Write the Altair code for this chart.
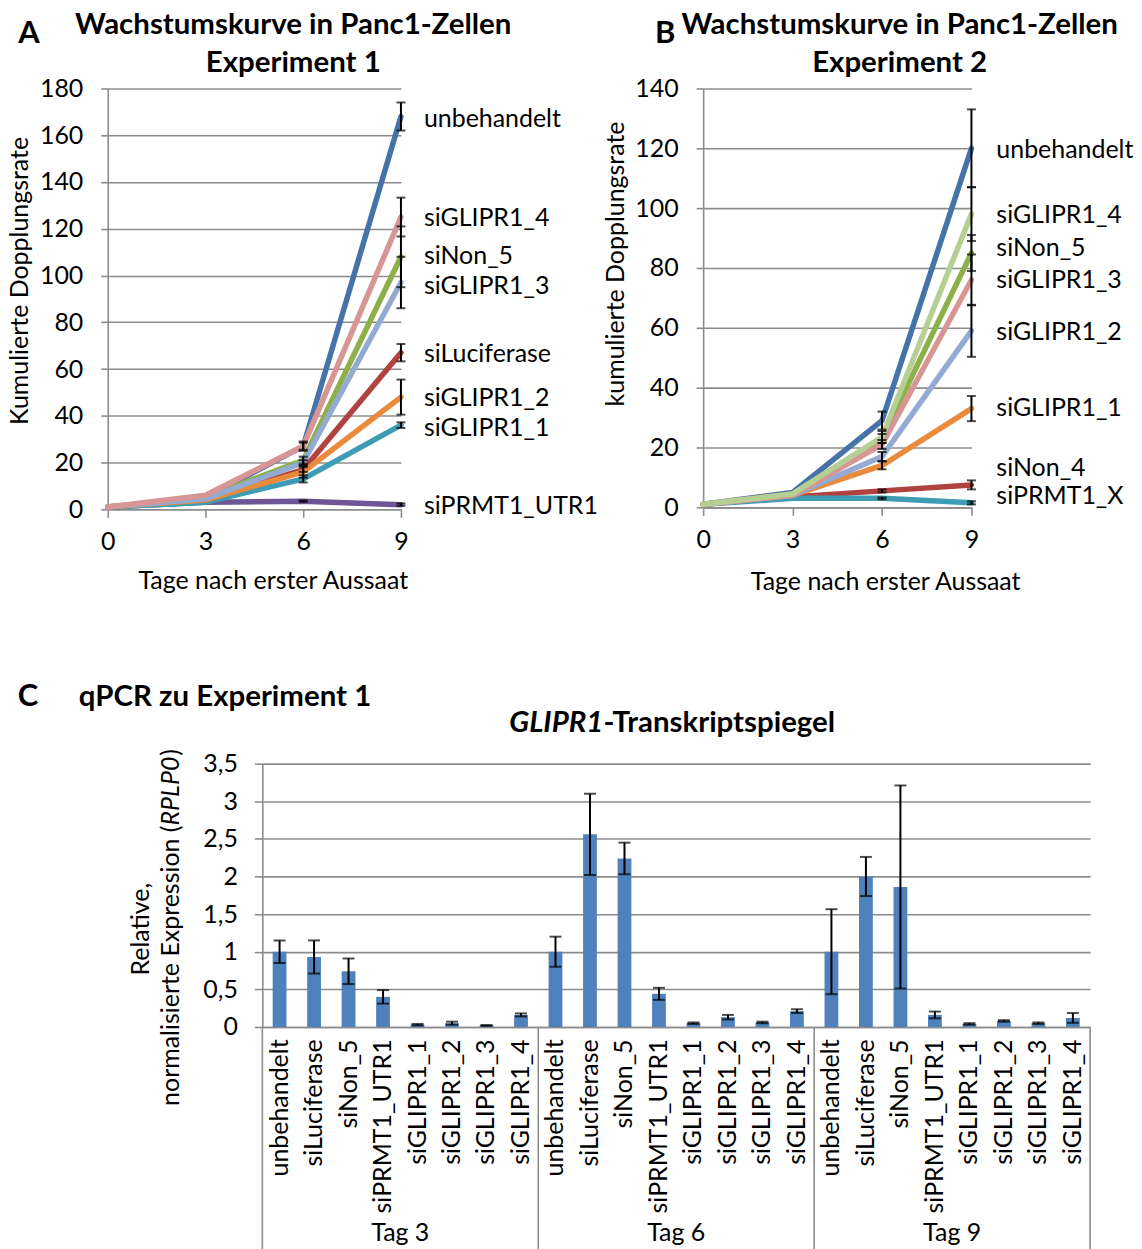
import altair as alt
import pandas as pd

FONT = "Lato"
GRID = "#8c8c8c"
BODY = 25
TITLE = 29.5
LETTER = 31

days = [0, 3, 6, 9]

# ---------------- Panel A : Experiment 1 ----------------
a_series = ["unbehandelt", "siLuciferase", "siNon_5", "siPRMT1_UTR1",
            "siGLIPR1_1", "siGLIPR1_2", "siGLIPR1_3", "siGLIPR1_4"]
a_colors = ["#4672AA", "#B0433F", "#8DB04A", "#6E5595",
            "#3E9CB5", "#E98A3C", "#93AAD3", "#D79693"]
a_values = [
    [1, 5, 27, 168],
    [1, 4, 17, 67],
    [1, 5, 21, 108],
    [1, 3, 3.5, 2],
    [1, 3, 13, 36],
    [1, 4, 16, 48],
    [1, 4.5, 20, 97],
    [1, 6, 27, 125],
]
a_err = [
    [0, 0, 2, 6],
    [0, 0, 1, 3.7],
    [0, 0, 1.5, 13],
    [0, 0, 0.3, 0.5],
    [0, 0, 1.5, 1.2],
    [0, 0, 2.5, 7.5],
    [0, 0, 1, 11],
    [0, 0, 1.5, 8.3],
]
a_label_at = [167, 66.6, 108.2, 1.3, 34.8, 47.6, 95.6, 124.6]

# ---------------- Panel B : Experiment 2 ----------------
b_series = ["unbehandelt", "siNon_4", "siNon_5", "siPRMT1_X",
            "siGLIPR1_1", "siGLIPR1_2", "siGLIPR1_3", "siGLIPR1_4"]
b_colors = ["#4672AA", "#B0433F", "#8DB04A", "#3E9CB5",
            "#E98A3C", "#93AAD3", "#D79693", "#B6CF93"]
b_values = [
    [1, 5, 29, 120],
    [1, 3.5, 5.5, 7.5],
    [1, 4.5, 23, 85],
    [1, 3, 3, 1.5],
    [1, 4, 14, 33],
    [1, 4, 17, 59],
    [1, 4, 21, 76],
    [1, 4.5, 23.5, 98],
]
b_err = [
    [0, 0, 3, 13],
    [0, 0, 0.5, 1.5],
    [0, 0, 1.5, 6],
    [0, 0, 0.3, 0.5],
    [0, 0, 1.3, 4.2],
    [0, 0, 1.5, 8.7],
    [0, 0, 1.5, 8.5],
    [0, 0, 2, 9],
]
b_label_at = [119.3, 13, 86.7, 3.7, 33.3, 58.7, 76, 97.7]

# ---------------- Panel C : qPCR ----------------
tags = ["Tag 3", "Tag 6", "Tag 9"]
conditions = ["unbehandelt", "siLuciferase", "siNon_5", "siPRMT1_UTR1",
              "siGLIPR1_1", "siGLIPR1_2", "siGLIPR1_3", "siGLIPR1_4"]
c_values = [
    [1.0, 0.93, 0.74, 0.40, 0.03, 0.05, 0.02, 0.16],
    [1.0, 2.56, 2.24, 0.44, 0.05, 0.13, 0.06, 0.21],
    [1.0, 2.00, 1.86, 0.16, 0.04, 0.08, 0.05, 0.12],
]
c_err = [
    [0.15, 0.22, 0.17, 0.09, 0.01, 0.02, 0.005, 0.02],
    [0.20, 0.54, 0.21, 0.08, 0.01, 0.03, 0.01, 0.025],
    [0.565, 0.26, 1.35, 0.045, 0.01, 0.01, 0.01, 0.065],
]

one = pd.DataFrame({"k": [0]})


def txt(t, x, y, size=BODY, weight="normal", align="center", angle=0,
        style="normal", dx=0):
    return alt.Chart(one).mark_text(
        text=t, font=FONT, fontSize=size, fontWeight=weight, align=align,
        baseline="middle", angle=angle, fontStyle=style, color="black", dx=dx
    ).encode(x=alt.value(x), y=alt.value(y))


def anchor(x0, x1, y0, y1):
    return alt.Chart(one).mark_rect(opacity=0).encode(
        x=alt.value(x0), x2=alt.value(x1), y=alt.value(y0), y2=alt.value(y1))


def growth_panel(series, colors, values, errs, label_at, ymax, w, h,
                 letter, letter_xy, title2, title_x, ytitle, ytitle_xy,
                 xtitle_xy, label_dx, extra=None):
    rows, erows, lrows = [], [], []
    for s, col, vals, es, la in zip(series, colors, values, errs, label_at):
        for d, v, e in zip(days, vals, es):
            rows.append({"series": s, "col": col, "day": d, "value": v})
            if e > 0:
                erows.append({"series": s, "day": d, "lo": v - e, "hi": v + e})
        lrows.append({"series": s, "day": 9, "pos": la})
    df = pd.DataFrame(rows)
    edf = pd.DataFrame(erows)
    ldf = pd.DataFrame(lrows)

    xs = alt.Scale(domain=[0, 9], nice=False)
    ys = alt.Scale(domain=[0, ymax], nice=False)
    xax = alt.Axis(values=days, grid=False, tickSize=8, labelPadding=12,
                   title=None, labelFontSize=BODY, labelFlush=False)
    yax = alt.Axis(values=list(range(0, ymax + 1, 20)), grid=True, tickSize=7,
                   labelPadding=18, title=None, labelFontSize=BODY, labelFlush=False)

    lines = alt.Chart(df).mark_line(strokeWidth=5.5, strokeCap="round").encode(
        x=alt.X("day:Q", scale=xs, axis=xax),
        y=alt.Y("value:Q", scale=ys, axis=yax),
        color=alt.Color("col:N", scale=None),
        detail="series:N",
    )
    ebar = alt.Chart(edf).mark_rule(color="black", strokeWidth=2).encode(
        x=alt.X("day:Q", scale=xs, axis=xax),
        y=alt.Y("lo:Q", scale=ys, axis=yax), y2="hi:Q")
    cap_lo = alt.Chart(edf).mark_tick(orient="horizontal", size=9, thickness=2,
                                      color="black").encode(
        x=alt.X("day:Q", scale=xs, axis=xax), y=alt.Y("lo:Q", scale=ys, axis=yax))
    cap_hi = alt.Chart(edf).mark_tick(orient="horizontal", size=9, thickness=2,
                                      color="black").encode(
        x=alt.X("day:Q", scale=xs, axis=xax), y=alt.Y("hi:Q", scale=ys, axis=yax))
    labels = alt.Chart(ldf).mark_text(
        font=FONT, fontSize=BODY, align="left", baseline="middle", dx=label_dx,
        color="black").encode(
        x=alt.X("day:Q", scale=xs, axis=xax),
        y=alt.Y("pos:Q", scale=ys, axis=yax), text="series:N")

    layers = ([extra] if extra is not None else []) + [
        lines, ebar, cap_lo, cap_hi, labels,
        txt(letter, letter_xy[0], letter_xy[1], size=LETTER, weight="bold"),
        txt("Wachstumskurve in Panc1-Zellen", title_x, -64, size=TITLE, weight="bold"),
        txt(title2, title_x, -25, size=TITLE, weight="bold"),
        txt(ytitle, ytitle_xy[0], ytitle_xy[1], angle=270),
        txt("Tage nach erster Aussaat", xtitle_xy[0], xtitle_xy[1]),
    ]
    return alt.layer(*layers).properties(width=w, height=h)


panel_a = growth_panel(
    a_series, a_colors, a_values, a_err, a_label_at, 180, 294, 422,
    "A", (-79, -55), "Experiment 1", 186, "Kumulierte Dopplungsrate", (-88, 193),
    (166, 494), 23, extra=anchor(-100, 0, -79, 0))

panel_b = growth_panel(
    b_series, b_colors, b_values, b_err, b_label_at, 140, 269, 420,
    "B", (-38, -55), "Experiment 2", 197, "kumulierte Dopplungsrate", (-87, 176),
    (183, 495), 25)

# ---------------- build panel C ----------------
keys = [f"{t}|{c}" for t in tags for c in conditions]
crows = []
for t, vals, es in zip(tags, c_values, c_err):
    for c, v, e in zip(conditions, vals, es):
        crows.append({"key": f"{t}|{c}", "tag": t, "cond": c, "value": v,
                      "lo": max(v - e, 0), "hi": v + e})
cdf = pd.DataFrame(crows)

CW, CH = 830, 264
cx_scale = alt.Scale(domain=keys, paddingInner=0, paddingOuter=0)
cx_axis = alt.Axis(title=None, labelAngle=-90, ticks=False, labelPadding=12,
                   labelExpr="split(datum.label, '|')[1]", labelFontSize=BODY,
                   labelLimit=400, grid=False)
cy_scale = alt.Scale(domain=[0, 3.5], nice=False)
cy_axis = alt.Axis(title=None, values=[0, 0.5, 1, 1.5, 2, 2.5, 3, 3.5], grid=True,
                   tickSize=8, labelPadding=17, labelFontSize=BODY, labelFlush=False,
                   labelExpr="replace(format(datum.value, '.1~f'), '.', ',')")


def cx(bp=None):
    if bp is None:
        return alt.X("key:N", scale=cx_scale, axis=cx_axis, sort=keys)
    return alt.X("key:N", scale=cx_scale, axis=cx_axis, sort=keys, bandPosition=bp)


bars = alt.Chart(cdf).mark_bar(width=alt.RelativeBandSize(0.4), color="#4F81BD").encode(
    x=cx(), y=alt.Y("value:Q", scale=cy_scale, axis=cy_axis))
c_rule = alt.Chart(cdf).mark_rule(color="black", strokeWidth=2).encode(
    x=cx(), y=alt.Y("lo:Q", scale=cy_scale, axis=cy_axis), y2="hi:Q")
c_cap_lo = alt.Chart(cdf).mark_tick(orient="horizontal", size=12, thickness=2,
                                    color="black").encode(
    x=cx(), y=alt.Y("lo:Q", scale=cy_scale, axis=cy_axis))
c_cap_hi = alt.Chart(cdf).mark_tick(orient="horizontal", size=12, thickness=2,
                                    color="black").encode(
    x=cx(), y=alt.Y("hi:Q", scale=cy_scale, axis=cy_axis))

first_keys = pd.DataFrame({"key": [f"{t}|{conditions[0]}" for t in tags]})
last_key = pd.DataFrame({"key": [f"{tags[-1]}|{conditions[-1]}"]})
mid_keys = pd.DataFrame({"key": [f"{t}|{conditions[3]}" for t in tags],
                         "tag": tags})

sep_left = alt.Chart(first_keys).mark_rule(color=GRID, strokeWidth=1.6).encode(
    x=cx(0), y=alt.value(CH), y2=alt.value(CH + 226))
sep_right = alt.Chart(last_key).mark_rule(color=GRID, strokeWidth=1.6).encode(
    x=cx(1), y=alt.value(CH), y2=alt.value(CH + 226))
tag_labels = alt.Chart(mid_keys).mark_text(
    font=FONT, fontSize=BODY, baseline="middle", align="center", color="black").encode(
    x=cx(1), y=alt.value(CH + 207), text="tag:N")

JX = 342   # junction of italic gene name and the rest of the title
JY = 62    # junction along rotated y-title

panel_c = alt.layer(
    bars, c_rule, c_cap_lo, c_cap_hi, sep_left, sep_right, tag_labels,
    txt("C", -235, -67, size=LETTER, weight="bold"),
    txt("qPCR zu Experiment 1", -184, -67, size=TITLE, weight="bold", align="left"),
    txt("GLIPR1", JX, -41, size=TITLE, weight="bold", align="right", style="italic"),
    txt("-Transkriptspiegel", JX, -41, size=TITLE, weight="bold", align="left"),
    txt("Relative,", -122, 166, angle=270),
    txt("normalisierte Expression (", -92, JY, angle=270, align="right"),
    txt("RPLP0", -92, JY, angle=270, align="left", style="italic"),
    txt(")", -92, JY, angle=270, align="left", dx=70),
).properties(width=CW, height=CH)

spacer = alt.Chart(one).mark_point(opacity=0).encode(
    x=alt.value(0), y=alt.value(0)).properties(width=155, height=10)

row1 = alt.hconcat(panel_a, panel_b, spacing=303, bounds="flush")
row2 = alt.hconcat(spacer, panel_c, spacing=0, bounds="flush")
chart = alt.vconcat(row1, row2, spacing=677, bounds="flush").properties(
    padding={"left": 0, "top": 0, "right": 0, "bottom": 0}
).configure_view(stroke=None).configure_axis(
    labelFont=FONT, labelColor="black", gridColor=GRID, gridWidth=1.6,
    domainColor=GRID, domainWidth=1.6, tickColor=GRID, tickWidth=1.6
)

chart.save("out.html", embed_options={"renderer": "svg", "actions": False})
